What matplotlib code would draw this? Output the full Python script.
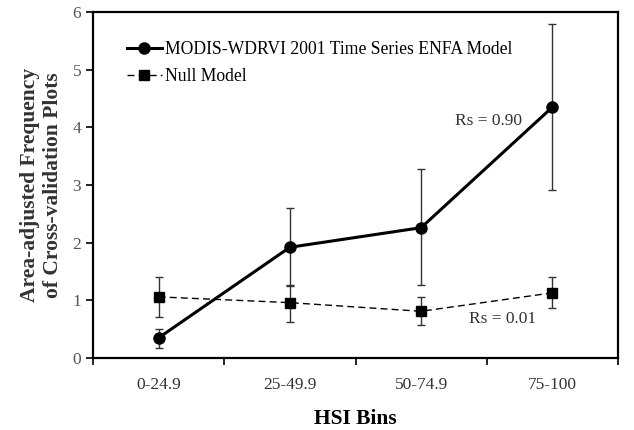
import numpy as np
import matplotlib.pyplot as plt

plt.rcParams['font.family'] = ['Liberation Serif', 'DejaVu Serif']

bins = ['0-24.9', '25-49.9', '50-74.9', '75-100']
enfa_mean = [0.35, 1.92, 2.26, 4.35]
enfa_lo = [0.17, 1.24, 1.26, 2.91]
enfa_hi = [0.50, 2.60, 3.27, 5.79]
null_mean = [1.06, 0.96, 0.81, 1.13]
null_lo = [0.71, 0.63, 0.58, 0.87]
null_hi = [1.40, 1.26, 1.05, 1.41]

x = np.arange(len(bins))
enfa_err = [np.subtract(enfa_mean, enfa_lo), np.subtract(enfa_hi, enfa_mean)]
null_err = [np.subtract(null_mean, null_lo), np.subtract(null_hi, null_mean)]

fig = plt.figure(figsize=(6.34, 4.30), dpi=100)
ax = fig.add_axes([93/634, 1 - 358/430, 525/634, 346/430])

# error bars drawn separately so the legend shows plain line handles
ax.errorbar(x, enfa_mean, yerr=enfa_err, fmt='none', ecolor='#333333',
            elinewidth=1, capsize=3, capthick=1)
ax.errorbar(x, null_mean, yerr=null_err, fmt='none', ecolor='#333333',
            elinewidth=1, capsize=3, capthick=1)
ax.plot(x, enfa_mean, color='black', lw=2.2, marker='o', ms=8,
        label='MODIS-WDRVI 2001 Time Series ENFA Model')
ax.plot(x, null_mean, color='black', lw=1, ls='--', dashes=(5, 3),
        marker='s', ms=6.5, label='Null Model')

ax.set_xlim(-0.5, 3.5)
ax.set_ylim(0, 6)
ax.set_xticks(x)
ax.set_xticklabels(bins, fontsize=12.5)
ax.set_xticks(np.arange(-0.5, 4, 1), minor=True)
ax.tick_params(axis='x', which='major', length=0, pad=14, labelcolor='#333333')
ax.tick_params(axis='x', which='minor', length=5, width=1.2, direction='out')
ax.set_yticks(range(7))
ax.tick_params(axis='y', labelsize=12.5, length=5, width=1.2, direction='out',
               labelcolor='#555555')
for s in ax.spines.values():
    s.set_linewidth(1.6)

ax.set_xlabel('HSI Bins', fontsize=15.5, fontweight='bold', labelpad=11)
ax.set_ylabel('Area-adjusted Frequency\nof Cross-validation Plots', fontsize=15.5,
              fontweight='bold', labelpad=7, color='#333333')

ax.text(2.51, 4.11, 'Rs = 0.90', fontsize=12.5, ha='center', va='center', color='#333333')
ax.text(2.62, 0.68, 'Rs = 0.01', fontsize=12.5, ha='center', va='center', color='#333333')

ax.legend(loc='upper left', bbox_to_anchor=(0.051, 0.936), frameon=False, fontsize=12.7,
          handlelength=2.0, handletextpad=0.15, borderaxespad=0, labelspacing=0.55)

fig.savefig('out.png', dpi=100)
